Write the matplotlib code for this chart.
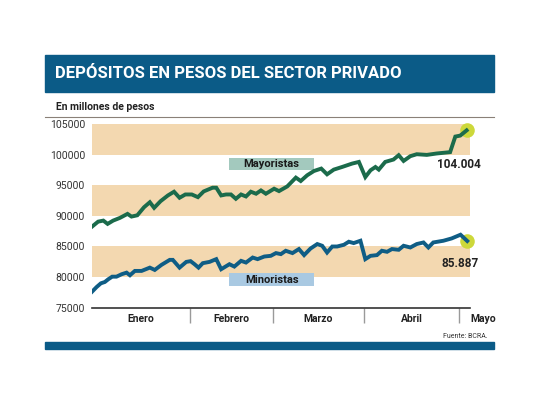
import matplotlib
matplotlib.use("Agg")
import matplotlib.pyplot as plt
from matplotlib.patches import Rectangle

# data (x = days since 1 Jan, y = millones de pesos)
may_days = [0, 2, 3.7, 5.1, 6.9, 9.1, 11.6, 12.9, 14.8, 17.0, 18.9, 20.3, 22.4, 24.8, 26.8,
            28.6, 30.5, 32.6, 34.6, 36.5, 39.4, 40.6, 42.2, 43.8, 45.4, 47.0, 48.7, 50.3, 51.9,
            53.6, 55.2, 56.8, 59.5, 61.1, 63.8, 66.6, 68.2, 70.3, 72.5, 74.9, 76.8, 79.0, 81.7,
            85.0, 87.2, 89.3, 91.0, 92.6, 93.7, 95.8, 98.5, 100.2, 101.8, 104.0, 106.1, 109.4,
            112.6, 117.0, 118.7, 120.3, 122.4]
may_vals = [88240, 89060, 89230, 88690, 89230, 89670, 90330, 89890, 90100, 91420, 92240, 91320,
            92410, 93350, 93960, 92970, 93510, 93510, 93070, 94010, 94620, 94620, 93350, 93510,
            93510, 92800, 93510, 93180, 93960, 93630, 94170, 93630, 94450, 94060, 94830, 96270,
            95710, 96650, 97350, 97750, 96810, 97580, 98010, 98570, 98840, 96360, 97470, 98010,
            97580, 98840, 99230, 99940, 99000, 99780, 100100, 99990, 100220, 100440, 102990,
            103150, 104004]

min_days = [0, 1.5, 2.9, 4.2, 5.3, 6.6, 8.0, 9.7, 11.3, 12.4, 14.0, 16.2, 18.9, 20.5, 22.7,
            25.4, 26.4, 28.6, 30.8, 32.2, 33.5, 34.8, 36.2, 38.4, 40.0, 40.6, 42.2, 44.9, 46.5,
            48.7, 50.3, 52.5, 54.1, 56.3, 58.4, 60.1, 61.7, 63.3, 65.5, 67.6, 69.3, 71.4, 73.6,
            75.2, 76.8, 78.5, 80.1, 82.3, 83.9, 85.5, 87.7, 89.3, 91.0, 93.1, 94.7, 96.4, 98.0,
            100.2, 101.8, 104.0, 106.1, 108.3, 109.9, 111.5, 114.8, 117.5, 120.4, 122.6]
min_vals = [77580, 78350, 78960, 79180, 79620, 80050, 80050, 80450, 80710, 80280, 80990, 80990,
            81530, 81150, 81980, 82800, 82800, 81530, 82470, 82590, 82090, 81530, 82260, 82470,
            82800, 82920, 81270, 82090, 81700, 82640, 82360, 83180, 82920, 83350, 83460, 83910,
            83740, 84290, 83910, 84570, 83580, 84660, 85390, 85110, 84000, 84990, 84990, 85270,
            85770, 85550, 85930, 82920, 83460, 83580, 84290, 84120, 84570, 84450, 85110, 84830,
            85390, 85650, 84830, 85650, 85930, 86310, 86920, 85887]

months = ["Enero", "Febrero", "Marzo", "Abril"]
month_edges = [0, 32, 59, 89, 120]
yticks = [75000, 80000, 85000, 90000, 95000, 100000, 105000]
bands = [(80000, 85000), (90000, 95000), (100000, 105000)]

BLUE_BAR = "#0b5b87"
GREEN = "#1b6b4b"
BLUE = "#0f5d85"
TAN = "#f3d8b0"
LIME = "#cdd83a"

W, H = 540, 405
plt.rcParams["font.family"] = ["Roboto", "DejaVu Sans"]
fig = plt.figure(figsize=(W / 100, H / 100), dpi=100)


def fx(x):
    return x / W


def fy(y):
    return 1 - y / H


# header
fig.patches.append(Rectangle((fx(45), fy(92)), fx(494 - 45), (92 - 55) / H,
                             transform=fig.transFigure, color=BLUE_BAR, zorder=0))
fig.text(fx(55), fy(74), "DEPÓSITOS EN PESOS DEL SECTOR PRIVADO", color="white",
         fontsize=12, fontweight="bold", va="center", ha="left")
fig.text(fx(56), fy(107), "En millones de pesos", color="#222222", fontsize=7.5,
         fontweight="bold", va="center", ha="left")
fig.lines.append(plt.Line2D([fx(45), fx(494)], [fy(117), fy(117)], transform=fig.transFigure,
                            color="#8a8078", lw=0.8))

# footer
fig.patches.append(Rectangle((fx(45), fy(349)), fx(494 - 45), 7 / H,
                             transform=fig.transFigure, color=BLUE_BAR, zorder=0))
fig.text(fx(488), fy(336), "Fuente: BCRA.", color="#333333", fontsize=5, ha="right", va="center")

# main plot
ax = fig.add_axes([fx(92), fy(307.5), fx(470 - 92), (307.5 - 124.3) / H])
ax.set_xlim(0, 123)
ax.set_ylim(75000, 105000)
for lo, hi in bands:
    ax.axhspan(lo, hi, color=TAN, lw=0, zorder=0)

ax.plot(may_days, may_vals, color=GREEN, lw=2.8, solid_joinstyle="miter", zorder=3)
ax.plot(min_days, min_vals, color=BLUE, lw=2.8, solid_joinstyle="miter", zorder=3)
ax.scatter([may_days[-1], min_days[-1]], [may_vals[-1], min_vals[-1]], s=110, color=LIME,
           zorder=2, clip_on=False, lw=0)

ax.text(127.2, 98450, "104.004", fontsize=8.5, fontweight="bold", ha="right", va="center",
        color="#222222")
ax.text(126.5, 82150, "85.887", fontsize=8.5, fontweight="bold", ha="right", va="center",
        color="#222222")

# series tags
ax.add_patch(Rectangle((44.9, 97585), 27.6, 1977, color="#a3c9be", lw=0, zorder=1))
ax.text(58.7, 98570, "Mayoristas", fontsize=8, fontweight="bold", ha="center", va="center",
        color="#1a1a1a", zorder=4)
ax.add_patch(Rectangle((44.9, 78520), 27.6, 2090, color="#a9c9e2", lw=0, zorder=1,
                       clip_on=False))
ax.text(58.7, 79560, "Minoristas", fontsize=8, fontweight="bold", ha="center", va="center",
        color="#1a1a1a", zorder=4)

# axes styling
for s in ["top", "right", "left"]:
    ax.spines[s].set_visible(False)
ax.spines["bottom"].set_color("#333333")
ax.spines["bottom"].set_linewidth(1.2)
ax.set_yticks(yticks)
ax.set_yticklabels([str(v) for v in yticks])
ax.tick_params(axis="y", length=0, pad=5, labelsize=7.5, labelcolor="#333333")

centers = [(month_edges[i] + month_edges[i + 1]) / 2 for i in range(len(months))]
ax.set_xticks(centers + [123.5])
ax.set_xticklabels(months + ["Mayo"], fontweight="bold", fontsize=7.5, color="#222222")
ax.tick_params(axis="x", length=0, pad=5)
ax.get_xticklabels()[-1].set_ha("left")
ax.set_xticks(month_edges[1:], minor=True)
ax.tick_params(axis="x", which="minor", length=11, width=1, color="#9a9a9a", direction="out")

fig.savefig("out.png", dpi=100, facecolor="white")
